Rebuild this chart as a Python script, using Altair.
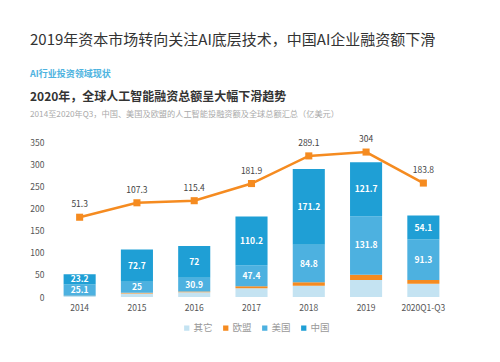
import altair as alt
import pandas as pd

years = ["2014", "2015", "2016", "2017", "2018", "2019", "2020Q1-Q3"]
china = [23.2, 72.7, 72, 110.2, 171.2, 121.7, 54.1]
usa = [25.1, 25, 30.9, 47.4, 84.8, 131.8, 91.3]
eu = [1.0, 1.6, 2.0, 4.5, 7.6, 12.0, 8.5]
other = [2.0, 8.0, 10.5, 19.8, 25.5, 38.5, 29.9]
total = [51.3, 107.3, 115.4, 181.9, 289.1, 304, 183.8]
y_ticks = [0, 50, 100, 150, 200, 250, 300, 350]

series_names = ["其它", "欧盟", "美国", "中国"]
series_vals = [other, eu, usa, china]
series_colors = ["#c4e3f2", "#f58b20", "#4db1e0", "#1f9fd5"]

title_main = "2019年资本市场转向关注AI底层技术，中国AI企业融资额下滑"
title_sec = "AI行业投资领域现状"
title_head = "2020年，全球人工智能融资总额呈大幅下滑趋势"
title_note = "2014至2020年Q3，中国、美国及欧盟的人工智能投融资额及全球总额汇总（亿美元）"

FONT = "Noto Sans CJK SC"

rows = []
for i, y in enumerate(years):
    base = 0.0
    for k, (name, vals) in enumerate(zip(series_names, series_vals)):
        v = vals[i]
        rows.append({"year": y, "series": name, "value": v, "ord": k,
                     "mid": base + v / 2, "label": f"{v:g}"})
        base += v
df = pd.DataFrame(rows)
lab_df = df[df["series"].isin(["美国", "中国"])]
line_df = pd.DataFrame({"year": years, "total": total,
                        "label": [f"{t:g}" for t in total]})

xenc = alt.X("year:N", sort=years, title=None,
             scale=alt.Scale(paddingInner=0.44, paddingOuter=0.22),
             axis=alt.Axis(labelAngle=0, domain=False, ticks=False,
                           labelPadding=6, labelFontSize=8.5,
                           labelColor="#555", labelFont=FONT))

yscale = alt.Scale(domain=[0, 350], nice=False)
yaxis = alt.Axis(values=y_ticks, domain=False, ticks=False, grid=False,
                 labelOverlap=False, labelFlush=False,
                 labelPadding=7, labelFontSize=8.5,
                 labelColor="#555", labelFont=FONT)

bars = alt.Chart(df).mark_bar().encode(
    x=xenc,
    y=alt.Y("value:Q", stack="zero", scale=yscale, title=None, axis=yaxis),
    color=alt.Color("series:N",
                    scale=alt.Scale(domain=series_names, range=series_colors),
                    sort=series_names,
                    legend=alt.Legend(title=None, orient="none",
                                      direction="horizontal",
                                      legendX=131, legendY=181,
                                      symbolType="square", symbolSize=28,
                                      symbolStrokeWidth=0,
                                      labelFontSize=9.5, labelColor="#999",
                                      labelFont=FONT, columnPadding=8,
                                      symbolOffset=0, labelOffset=2)),
    order=alt.Order("ord:Q", sort="ascending"),
)

labels = alt.Chart(lab_df).mark_text(
    color="white", fontWeight="bold", fontSize=8.5, font=FONT,
    baseline="middle").encode(
    x=alt.X("year:N", sort=years),
    y=alt.Y("mid:Q", scale=yscale, title=None, axis=yaxis),
    text="label:N",
)

lscale = alt.Scale(domain=[-258, 343], nice=False, zero=False)

line = alt.Chart(line_df).mark_line(
    color="#f58b20", strokeWidth=2.5,
    point=alt.OverlayMarkDef(shape="square", size=50, filled=True,
                             color="#f58b20")).encode(
    x=alt.X("year:N", sort=years),
    y=alt.Y("total:Q", scale=lscale, axis=None),
)

ltext = alt.Chart(line_df).mark_text(
    dy=-13, fontSize=8.5, color="#444", font=FONT, baseline="middle").encode(
    x=alt.X("year:N", sort=years),
    y=alt.Y("total:Q", scale=lscale, axis=None),
    text="label:N",
)


def header(txt, x, y, size, color, weight="normal"):
    return alt.Chart(pd.DataFrame({"t": [txt]})).mark_text(
        align="left", baseline="middle", fontSize=size, color=color,
        fontWeight=weight, font=FONT).encode(
        text="t:N", x=alt.value(x), y=alt.value(y))


h1 = header(title_main, -21, -102, 15, "#333")
h2 = header(title_sec, -21, -68, 9, "#4db3e0", "bold")
h3 = header(title_head, -21, -45, 12, "#333", "bold")
h4 = header(title_note, -21, -27, 8.2, "#aaa")

chart = alt.layer(
    alt.layer(bars, labels),
    alt.layer(line, ltext),
    h1, h2, h3, h4,
).resolve_scale(y="independent").properties(
    width=401, height=155,
    padding={"left": 43, "top": 134, "right": 40, "bottom": 57},
    autosize=alt.AutoSizeParams(type="none"),
    background="white",
).configure_view(stroke=None)

chart.save("out.html", embed_options={"renderer": "svg", "actions": False})
